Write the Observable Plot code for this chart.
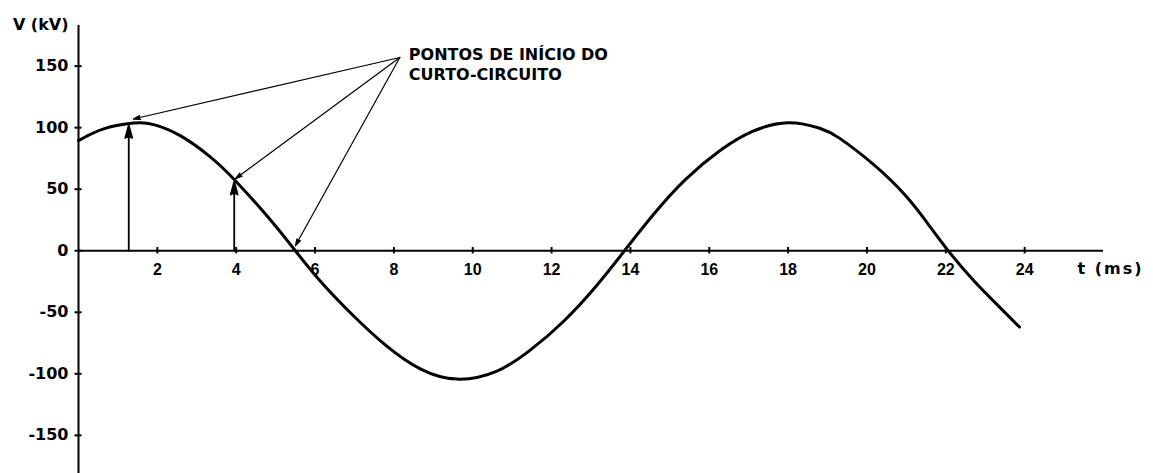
<!DOCTYPE html>
<html>
<head>
<meta charset="utf-8">
<script src="https://cdn.jsdelivr.net/npm/d3@7"></script>
<script src="https://cdn.jsdelivr.net/npm/@observablehq/plot@0.6"></script>
<style>
  html, body { margin: 0; padding: 0; background: #fff; }
  #chart svg { display: block; }
</style>
</head>
<body>
<div id="chart"></div>
<script>
// Voltage waveform v(t) in kV, time in ms
const timeMs = [0, 0.64, 1.4, 1.91, 2.58, 3.35, 4.02, 4.87, 5.5, 6.13, 6.98, 7.82, 8.67, 9.6, 10.6, 11.45, 12.3, 13.15, 13.85, 14.6, 15.4, 16.3, 17.1, 18.0, 18.8, 19.3, 20.15, 21.0, 21.6, 22.06, 22.7, 23.37, 23.87];
const voltageKv = [89.5, 99, 103.7, 102.5, 93.5, 76, 55.5, 25, 0, -24.5, -53, -77.5, -96, -104.3, -98, -81, -57.5, -28, 0, 30, 58, 82, 97, 104, 99.5, 91.5, 70.5, 44, 19.5, 0, -24, -46, -62];

// Short-circuit inception instants (vertical arrows)
const faultTimes = [1.275, 3.95];
const faultVoltages = [102, 56];

// Targets of the callout arrows and the callout's anchor
const calloutTimes = [1.39, 3.98, 5.5];
const calloutVoltages = [107, 58.5, 4];
const calloutOrigin = {t: 8.15, v: 157};
const calloutLines = ["PONTOS DE INÍCIO DO", "CURTO-CIRCUITO"];
const calloutLineV = [159, 142.5];

// Axes
const xTicks = [2, 4, 6, 8, 10, 12, 14, 16, 18, 20, 22, 24];
const yTicks = [-150, -100, -50, 0, 50, 100, 150];
const xTitle = "t (ms)";
const yTitle = "V (kV)";

const wave = timeMs.map((t, i) => ({t, v: voltageKv[i]}));
const faults = faultTimes.map((t, i) => ({t, v: faultVoltages[i]}));
const callouts = calloutTimes.map((t, i) => ({t, v: calloutVoltages[i]}));
const labelRows = calloutLines.map((text, i) => ({text, v: calloutLineV[i]}));

const sans = "DejaVu Sans, sans-serif";
const narrow = "Liberation Sans, Arial, sans-serif";

const chart = Plot.plot({
  width: 1153,
  height: 473,
  marginLeft: 78,
  marginRight: 50,
  marginTop: 25,
  marginBottom: 0,
  style: {background: "#fff", color: "#000", fontFamily: sans},
  x: {domain: [0, 26], axis: null},
  y: {domain: [-181, 183], axis: null},
  marks: [
    // axis lines
    Plot.ruleY([0], {x1: 0, x2: 26, stroke: "#000", strokeWidth: 2}),
    Plot.ruleX([0], {stroke: "#000", strokeWidth: 2}),
    // tick crosses
    Plot.ruleX(xTicks, {x: d => d, y1: -2.6, y2: 2.6, stroke: "#000", strokeWidth: 2}),
    Plot.ruleY(yTicks, {y: d => d, x1: -0.09, x2: 0.09, stroke: "#000", strokeWidth: 2}),
    // tick labels
    Plot.text(xTicks, {x: d => d, y: 0, dy: 19, text: d => String(d), fontSize: 16, fontWeight: "bold", fontFamily: narrow, fill: "#000"}),
    Plot.text(yTicks, {x: 0, y: d => d, dx: -10, text: d => String(d), textAnchor: "end", fontSize: 16, fontWeight: "bold", fill: "#000"}),
    // axis titles
    Plot.text([xTitle], {x: 26, y: 0, dx: -26, dy: 18, text: d => d, textAnchor: "start", fontSize: 16, fontWeight: "bold", fill: "#000"}),
    Plot.text([yTitle], {x: 0, y: 183, dx: -10, dy: -1, text: d => d, textAnchor: "end", fontSize: 16, fontWeight: "bold", fill: "#000"}),
    // waveform
    Plot.line(wave, {x: "t", y: "v", curve: "natural", stroke: "#000", strokeWidth: 3}),
    // fault instants
    Plot.arrow(faults, {x1: "t", y1: 0, x2: "t", y2: "v", stroke: "#000", fill: "#000", strokeWidth: 1.8, headLength: 11, headAngle: 30}),
    // callout
    Plot.arrow(callouts, {x1: calloutOrigin.t, y1: calloutOrigin.v, x2: "t", y2: "v", stroke: "#000", fill: "#000", strokeWidth: 1.2, headLength: 9, headAngle: 32}),
    Plot.text(labelRows, {x: calloutOrigin.t, y: "v", dx: 9, text: "text", textAnchor: "start", fontSize: 16, fontWeight: "bold", fill: "#000"})
  ]
});

d3.select(chart).selectAll("text")
  .filter(function () { return this.textContent === xTitle; })
  .attr("letter-spacing", 2);

document.getElementById("chart").appendChild(chart);
</script>
</body>
</html>
